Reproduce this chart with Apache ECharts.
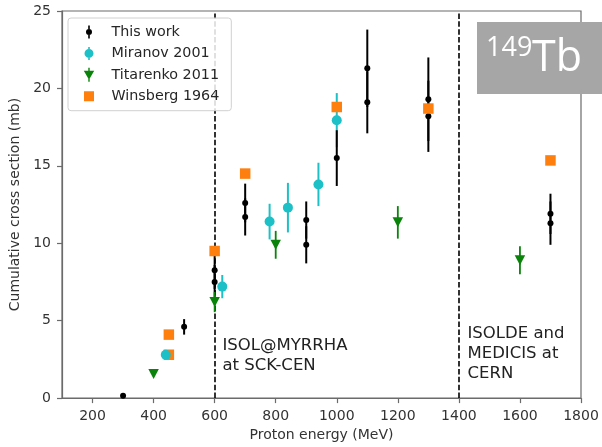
<!DOCTYPE html>
<html><head><meta charset="utf-8">
<script src="https://cdn.jsdelivr.net/npm/echarts@6/dist/echarts.min.js"></script>
<style>html,body{margin:0;padding:0;background:#fff}#c{width:602px;height:447px}</style>
</head><body><div id="c"></div>
<script>
// ---- data ----
const xTicks = [200, 400, 600, 800, 1000, 1200, 1400, 1600, 1800];
const yTicks = [0, 5, 10, 15, 20, 25];

const workE   = [300, 500, 600, 600, 700, 700, 900, 900, 1000, 1100, 1100, 1300, 1300, 1700, 1700];
const workY   = [0.15, 4.6, 8.25, 7.5, 12.6, 11.7, 11.5, 9.9, 15.5, 21.3, 19.1, 19.3, 18.2, 11.9, 11.3];
const workErr = [0.15, 0.5, 1.2, 1.1, 1.25, 1.2, 1.2, 1.2, 1.8, 2.5, 2.0, 2.7, 2.3, 1.3, 1.4];

const miranovE   = [440, 625, 780, 840, 940, 1000];
const miranovY   = [2.8, 7.2, 11.4, 12.3, 13.8, 17.95];
const miranovErr = [0.1, 0.75, 1.15, 1.6, 1.4, 1.75];

const titarenkoE   = [400, 600, 800, 1200, 1600];
const titarenkoY   = [1.55, 6.2, 9.9, 11.35, 8.9];
const titarenkoErr = [0.1, 0.65, 0.9, 1.05, 0.9];

const winsbergE = [450, 450, 600, 700, 1000, 1300, 1700];
const winsbergY = [4.1, 2.8, 9.5, 14.5, 18.8, 18.7, 15.35];

const facilityLines = [600, 1400];

// ---- helpers ----
const pts = (xs, ys) => xs.map((x, i) => [x, ys[i]]);
const bars = (xs, ys, es) => xs.map((x, i) => [x, ys[i] - es[i], ys[i] + es[i]]);
function errSeries(name, data, color, width, z) {
  return {
    name, type: 'custom', data, z, silent: true,
    itemStyle: { color, opacity: 1 },
    encode: { x: 0, y: [1, 2] },
    renderItem: (params, api) => {
      const a = api.coord([api.value(0), api.value(1)]);
      const b = api.coord([api.value(0), api.value(2)]);
      return { type: 'line', shape: { x1: a[0], y1: a[1], x2: b[0], y2: b[1] },
               style: { stroke: color, lineWidth: width } };
    }
  };
}

const C_BLACK = '#000000', C_CYAN = '#1cc0c6', C_GREEN = '#0a830a', C_ORANGE = '#ff7f0e';
const FONT = 'DejaVu Sans';
const AX = '#6b6b6b';

// legend icons (14x14 box, anchored by degenerate corner points)
const A = 'M0,0L0,0Z M14,14L14,14Z ';
const icWork = 'path://' + A + 'M6.2,0.5L7.8,0.5L7.8,4L6.2,4Z M6.2,10L7.8,10L7.8,13.5L6.2,13.5Z M4,7A3,3 0 1,1 10,7A3,3 0 1,1 4,7Z';
const icMir  = 'path://' + A + 'M6.2,0.5L7.8,0.5L7.8,2.6L6.2,2.6Z M6.2,11.4L7.8,11.4L7.8,13.5L6.2,13.5Z M2.5,7A4.5,4.5 0 1,1 11.5,7A4.5,4.5 0 1,1 2.5,7Z';
const icTit  = 'path://' + A + 'M6.3,0L7.7,0L7.7,3L6.3,3Z M6.3,10L7.7,10L7.7,14L6.3,14Z M1.8,3L12.2,3L7,12Z';
const icWin  = 'path://' + A + 'M2,2L12,2L12,12L2,12Z';

const chart = echarts.init(document.getElementById('c'), null, { renderer: 'canvas' });
chart.setOption({
  animation: false,
  textStyle: { fontFamily: FONT },
  grid: { left: 62, right: 21, top: 11, bottom: 48, show: true, borderColor: AX, borderWidth: 1.2, backgroundColor: 'transparent' },
  xAxis: {
    type: 'value', min: 100, max: 1800,
    name: 'Proton energy (MeV)', nameLocation: 'middle', nameGap: 29,
    nameTextStyle: { fontSize: 14, color: '#333', fontFamily: FONT },
    axisLine: { show: true, lineStyle: { color: AX, width: 1.2 } },
    axisTick: { show: true, inside: false, length: 5, lineStyle: { color: AX, width: 1.2 }, customValues: xTicks },
    axisLabel: { fontSize: 14, color: '#333', margin: 11, fontFamily: FONT, customValues: xTicks,
                 formatter: v => String(v) },
    splitLine: { show: false }
  },
  yAxis: {
    type: 'value', min: yTicks[0], max: yTicks[yTicks.length - 1], interval: 5,
    name: 'Cumulative cross section (mb)', nameLocation: 'middle', nameGap: 37,
    nameTextStyle: { fontSize: 14, color: '#333', fontFamily: FONT },
    axisLine: { show: true, lineStyle: { color: AX, width: 1.2 } },
    axisTick: { show: true, inside: false, length: 5, lineStyle: { color: AX, width: 1.2 } },
    axisLabel: { fontSize: 14, color: '#333', margin: 11, fontFamily: FONT, formatter: v => String(v) },
    splitLine: { show: false }
  },
  legend: {
    orient: 'vertical', left: 68, top: 18, z: 20,
    padding: [7, 12, 7.5, 14], itemWidth: 35, itemHeight: 14, itemGap: 7.4,
    backgroundColor: 'rgba(255,255,255,0.85)', borderColor: '#d0d0d0', borderWidth: 1, borderRadius: 3,
    textStyle: { fontSize: 14.3, color: '#262626', fontFamily: FONT },
    selectedMode: false,
    data: [
      { name: 'This work', icon: icWork, itemStyle: { color: C_BLACK, opacity: 1 } },
      { name: 'Miranov 2001', icon: icMir, itemStyle: { color: C_CYAN, opacity: 1 } },
      { name: 'Titarenko 2011', icon: icTit, itemStyle: { color: C_GREEN, opacity: 1 } },
      { name: 'Winsberg 1964', icon: icWin, itemStyle: { color: C_ORANGE, opacity: 1 } }
    ]
  },
  series: [
    errSeries('Miranov 2001', bars(miranovE, miranovY, miranovErr), C_CYAN, 2, 1),
    errSeries('This work', bars(workE, workY, workErr), C_BLACK, 2, 2),
    { name: 'This work', type: 'scatter', z: 2, data: pts(workE, workY), symbol: 'circle', symbolSize: 6,
      itemStyle: { color: C_BLACK, opacity: 1 }, silent: true,
      markLine: { silent: true, symbol: 'none', label: { show: false }, z: 1,
        lineStyle: { color: '#000', width: 1.6, type: [5.5, 2.4] },
        data: facilityLines.map(v => ({ xAxis: v })) } },
    errSeries('Titarenko 2011', bars(titarenkoE, titarenkoY, titarenkoErr), C_GREEN, 1.8, 3),
    { name: 'Titarenko 2011', type: 'scatter', z: 3, data: pts(titarenkoE, titarenkoY), symbol: 'triangle', symbolRotate: 180,
      symbolSize: [10.5, 10], itemStyle: { color: C_GREEN, opacity: 1 }, silent: true },
    { name: 'Winsberg 1964', type: 'scatter', z: 4, data: pts(winsbergE, winsbergY), symbol: 'rect', symbolSize: 10.5,
      itemStyle: { color: C_ORANGE, opacity: 1 }, silent: true },
    { name: 'Miranov 2001', type: 'scatter', z: 5, data: pts(miranovE, miranovY), symbol: 'circle', symbolSize: 10,
      itemStyle: { color: C_CYAN, opacity: 1 }, silent: true }
  ],
  graphic: [
    { type: 'text', left: 222.5, top: 335.6, z: 10,
      style: { text: 'ISOL@MYRRHA\nat SCK-CEN', fontSize: 16.5, lineHeight: 19.8, fill: '#222', fontFamily: FONT } },
    { type: 'text', left: 467.5, top: 324.3, z: 10,
      style: { text: 'ISOLDE and\nMEDICIS at\nCERN', fontSize: 16.5, lineHeight: 19.8, fill: '#222', fontFamily: FONT } },
    { type: 'rect', shape: { x: 477, y: 22, width: 130, height: 72 }, style: { fill: '#a6a6a6' }, z: 10 },
    { type: 'text', x: 486, y: 48, z: 11,
      style: { text: '149', fontSize: 27, fill: '#fff', fontFamily: 'Open Sans', textVerticalAlign: 'middle', verticalAlign: 'middle' } },
    { type: 'text', x: 532, y: 58.5, z: 11,
      style: { text: 'Tb', fontSize: 43, fill: '#fff', fontFamily: 'Open Sans', textVerticalAlign: 'middle', verticalAlign: 'middle' } }
  ]
});
</script></body></html>
